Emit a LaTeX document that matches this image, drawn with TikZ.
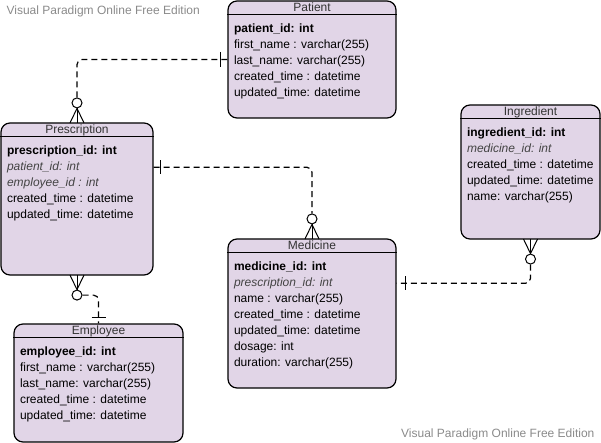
\documentclass[tikz,border=0pt]{standalone}
\usepackage{fontspec}
\setmainfont{Liberation Sans}
\definecolor{entfill}{HTML}{E1D5E7}
\definecolor{titlegray}{HTML}{333333}
\definecolor{fkgray}{HTML}{444444}
\definecolor{wmgray}{HTML}{8A8A8A}

\begin{document}
\begin{tikzpicture}[x=1pt, y=1pt, line width=1.2pt,
	entity/.style={draw, fill=entfill, rounded corners=9pt, inner sep=0pt},
	ename/.style={anchor=base, inner sep=0pt, text=titlegray, font=\fontsize{12}{14}\selectfont},
	attr/.style={anchor=base west, inner sep=0pt, font=\fontsize{12}{14}\selectfont},
	rel/.style={dash pattern=on 6pt off 4pt, rounded corners=5pt},
	ring/.style={circle, draw, fill=white, minimum size=10pt, inner sep=0pt, line width=1pt},
	foot/.style={line width=1pt}]
		
		\useasboundingbox (0,0) rectangle (601,-443);
		
		% Marcas de agua
		\node [anchor=west, inner sep=0pt, text=wmgray, font=\fontsize{12}{14}\selectfont] (wm-top) at (6,-11) {Visual Paradigm Online Free Edition};
		\node [anchor=east, inner sep=0pt, text=wmgray, font=\fontsize{12}{14}\selectfont] (wm-bottom) at (595,-434) {Visual Paradigm Online Free Edition};
		
		% Entidades
		\node [entity, minimum width=168pt, minimum height=117pt] (patient) at (312,-59.5) {};
		\node [entity, minimum width=152pt, minimum height=152pt] (prescription) at (77,-199) {};
		\node [entity, minimum width=169pt, minimum height=118pt] (employee) at (98.5,-383) {};
		\node [entity, minimum width=168pt, minimum height=149pt] (medicine) at (312,-313.5) {};
		\node [entity, minimum width=139pt, minimum height=134pt] (ingredient) at (530.5,-172) {};
		
		% Titulos y cabeceras
		\foreach \e/\t in {patient/Patient, prescription/Prescription, employee/Employee, medicine/Medicine, ingredient/Ingredient} {
		\node [ename] (\e-title) at ([yshift=-11pt]\e.north) {\t};
		\draw ([yshift=-14pt]\e.north west) -- ([yshift=-14pt]\e.north east);
		}
		
		% Atributos
		\foreach \f [count=\i] in {{\bfseries patient\_id: int}, first\_name : varchar(255), last\_name: varchar(255), created\_time : datetime, updated\_time: datetime}
		\node [attr] (patient-\i) at ([shift={(6,-16-16*\i)}]patient.north west) {\f};
		
		\foreach \f [count=\i] in {{\bfseries prescription\_id: int}, {\itshape\color{fkgray}patient\_id: int}, {\itshape\color{fkgray}employee\_id : int}, created\_time : datetime, updated\_time: datetime}
		\node [attr] (prescription-\i) at ([shift={(6,-16-16*\i)}]prescription.north west) {\f};
		
		\foreach \f [count=\i] in {{\bfseries employee\_id: int}, first\_name : varchar(255), last\_name: varchar(255), created\_time : datetime, updated\_time: datetime}
		\node [attr] (employee-\i) at ([shift={(6,-16-16*\i)}]employee.north west) {\f};
		
		\foreach \f [count=\i] in {{\bfseries medicine\_id: int}, {\itshape\color{fkgray}prescription\_id: int}, name : varchar(255), created\_time : datetime, updated\_time: datetime, dosage: int, duration: varchar(255)}
		\node [attr] (medicine-\i) at ([shift={(6,-16-16*\i)}]medicine.north west) {\f};
		
		\foreach \f [count=\i] in {{\bfseries ingredient\_id: int}, {\itshape\color{fkgray}medicine\_id: int}, created\_time : datetime, updated\_time: datetime, name: varchar(255)}
		\node [attr] (ingredient-\i) at ([shift={(6,-16-16*\i)}]ingredient.north west) {\f};
		
		% Circulos de cardinalidad
		\node [ring] (ring-pat) at ([yshift=19.5pt]prescription.north) {};
		\node [ring] (ring-med) at ([yshift=19.5pt]medicine.north) {};
		\node [ring] (ring-emp) at ([yshift=-19.5pt]prescription.south) {};
		\node [ring] (ring-ing) at ([yshift=-19.5pt]ingredient.south) {};
		
		% Patas de gallo
		\foreach \dx in {-7,0,7} {
		\draw [foot] (ring-pat.south) -- ++(\dx,-14.5);
		\draw [foot] (ring-med.south) -- ++(\dx,-14.5);
		\draw [foot] (ring-emp.north) -- ++(\dx,14.5);
		\draw [foot] (ring-ing.north) -- ++(\dx,14.5);
		}
		
		% Relaciones
		\draw [rel] (ring-pat.north) |- (patient.west);
		\draw [rel] (prescription.east |- prescription-2) -| (ring-med.north);
		\draw [rel] (ring-emp.east) -| (employee.north);
		\draw [rel] (ring-ing.south) |- (medicine.east |- medicine-2);
		
		% Barras de uno
		\draw ([xshift=-7pt]patient.west) ++(0,7.5) -- ++(0,-15);
		\draw ([xshift=7pt]prescription.east |- prescription-2) ++(0,7) -- ++(0,-14);
		\draw ([yshift=6pt]employee.north) ++(-7,0) -- ++(14,0);
		\draw ([xshift=9pt]medicine.east |- medicine-2) ++(0,7) -- ++(0,-14);
		
	\end{tikzpicture}
\end{document}
